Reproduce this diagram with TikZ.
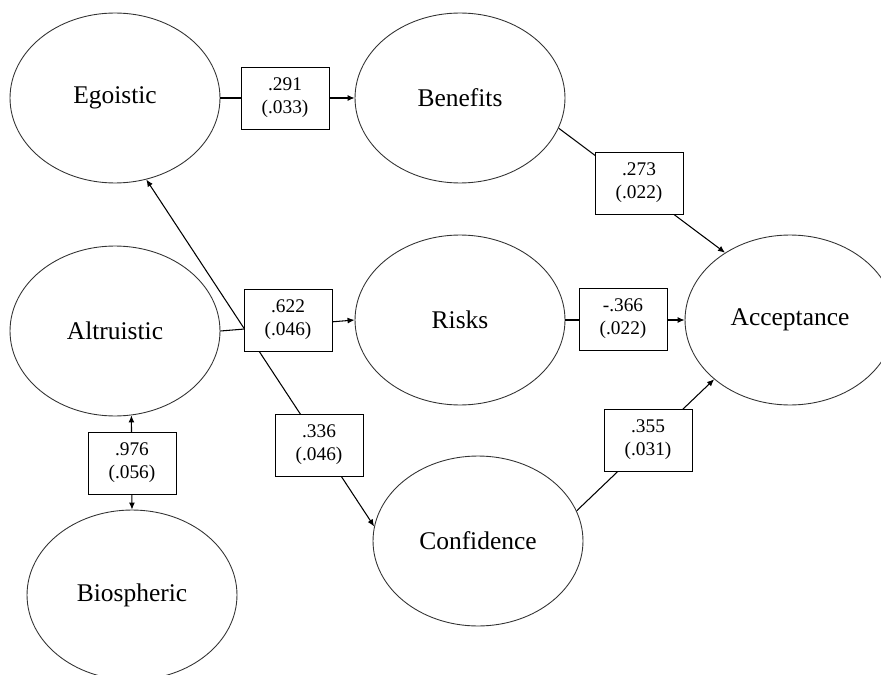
\documentclass[tikz,border=0pt]{standalone}
\usepackage{fontspec}
\setmainfont{Liberation Serif}
\usepackage{tikz}
\usetikzlibrary{shapes, arrows.meta}

\begin{document}
\begin{tikzpicture}[x=0.02cm, y=-0.02cm,
        latent/.style={ellipse, draw=black!80, line width=0.5pt, minimum width=4.2cm, minimum height=3.4cm, inner sep=0pt, font=\fontsize{14.5}{17}\selectfont},
        coef/.style={rectangle, draw, fill=white, line width=0.5pt, minimum width=1.76cm, minimum height=1.24cm, inner sep=0pt, align=center, font=\fontsize{11}{13.2}\selectfont},
        >={Latex[length=4pt, width=3.4pt]}]
        \useasboundingbox (0, 0) rectangle (881, 675);
        \clip (0, 0) rectangle (881, 675);

        \node[latent] (ego) at (115, 98) {Egoistic};
        \node[latent] (ben) at (460, 98) {Benefits};
        \node[latent] (alt) at (115, 331) {Altruistic};
        \node[latent] (risk) at (460, 320) {Risks};
        \node[latent] (acc) at (790, 320) {Acceptance};
        \node[latent] (conf) at (478, 541) {Confidence};
        \node[latent] (bio) at (132, 595) {Biospheric};

        \draw[line width=0.6pt, ->] (ego) -- (ben);
        \draw[line width=0.6pt, ->] (alt.east) -- (risk.west);
        \draw[line width=0.6pt, ->] (ben.-17) -- (acc.134);
        \draw[line width=0.6pt, ->] (risk) -- (acc);
        \draw[line width=0.6pt, ->] (conf.17) -- (acc.-142);
        \draw[line width=0.6pt, <->] (ego.-69) -- (conf.172);
        \draw[line width=0.6pt, <->] (alt.-79) -- (bio.north);

        \node[coef] (c291) at (285, 98) {.291\\(.033)};
        \node[coef] (c622) at (288, 320) {.622\\(.046)};
        \node[coef] (c273) at (639, 183) {.273\\(.022)};
        \node[coef] (c366) at (623, 319) {-.366\\(.022)};
        \node[coef] (c355) at (648, 440) {.355\\(.031)};
        \node[coef] (c336) at (319, 445) {.336\\(.046)};
        \node[coef] (c976) at (132, 463) {.976\\(.056)};
\end{tikzpicture}
\end{document}
